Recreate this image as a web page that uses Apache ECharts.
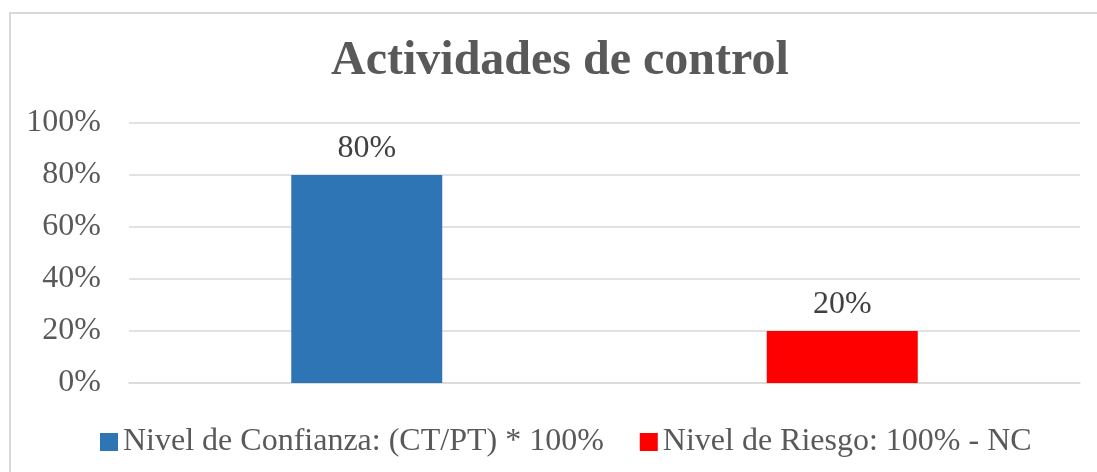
<!DOCTYPE html>
<html>
<head>
<meta charset="utf-8">
<script src="https://cdn.jsdelivr.net/npm/echarts@6/dist/echarts.min.js"></script>
<style>
html,body{margin:0;padding:0;background:#fff;}
#chart{width:1097px;height:472px;}
</style>
</head>
<body>
<div id="chart"></div>
<script>
const categories = ['Nivel de Confianza', 'Nivel de Riesgo'];
const seriesNames = ['Nivel de Confianza: (CT/PT) * 100%', 'Nivel de Riesgo: 100% - NC'];
const confianzaValues = [80, '-'];
const riesgoValues = ['-', 20];
const yTicks = [0, 20, 40, 60, 80, 100];

const FONT = '"Liberation Serif", "Times New Roman", serif';
const chart = echarts.init(document.getElementById('chart'), null, {renderer: 'canvas'});
chart.setOption({
  animation: false,
  title: {
    text: 'Actividades de control',
    left: 331,
    top: 38,
    padding: 0,
    textStyle: {fontFamily: FONT, fontSize: 48, fontWeight: 'bold', color: '#595959'}
  },
  graphic: [{
    type: 'rect',
    shape: {x: 10, y: 13, width: 1100, height: 500},
    style: {fill: 'none', stroke: '#d9d9d9', lineWidth: 2},
    silent: true
  }],
  legend: {
    top: 421,
    left: 95,
    itemWidth: 18,
    itemHeight: 18,
    itemGap: 36,
    icon: 'rect',
    textStyle: {fontFamily: FONT, fontSize: 32, color: '#595959', padding: [0, 0, 0, 0]},
    data: seriesNames
  },
  grid: {left: 129, right: 17, top: 123, bottom: 89},
  xAxis: {
    type: 'category',
    data: categories,
    axisLabel: {show: false},
    axisTick: {show: false},
    axisLine: {show: true, lineStyle: {color: '#d9d9d9', width: 1.5}}
  },
  yAxis: {
    type: 'value',
    min: yTicks[0],
    max: yTicks[yTicks.length - 1],
    interval: 20,
    axisLabel: {formatter: '{value}%', fontFamily: FONT, fontSize: 32, color: '#595959', margin: 28},
    axisLine: {show: false},
    axisTick: {show: false},
    splitLine: {lineStyle: {color: '#d9d9d9', width: 1.5}}
  },
  series: [{
    name: seriesNames[0],
    type: 'bar',
    stack: 'a',
    barWidth: 151,
    data: confianzaValues,
    itemStyle: {color: '#2E75B6'},
    label: {show: true, position: 'top', distance: 10, formatter: '{c}%', fontFamily: FONT, fontSize: 32, color: '#404040'}
  }, {
    name: seriesNames[1],
    type: 'bar',
    stack: 'a',
    barWidth: 151,
    data: riesgoValues,
    itemStyle: {color: '#FF0000'},
    label: {show: true, position: 'top', distance: 10, formatter: '{c}%', fontFamily: FONT, fontSize: 32, color: '#404040'}
  }]
});
</script>
</body>
</html>
